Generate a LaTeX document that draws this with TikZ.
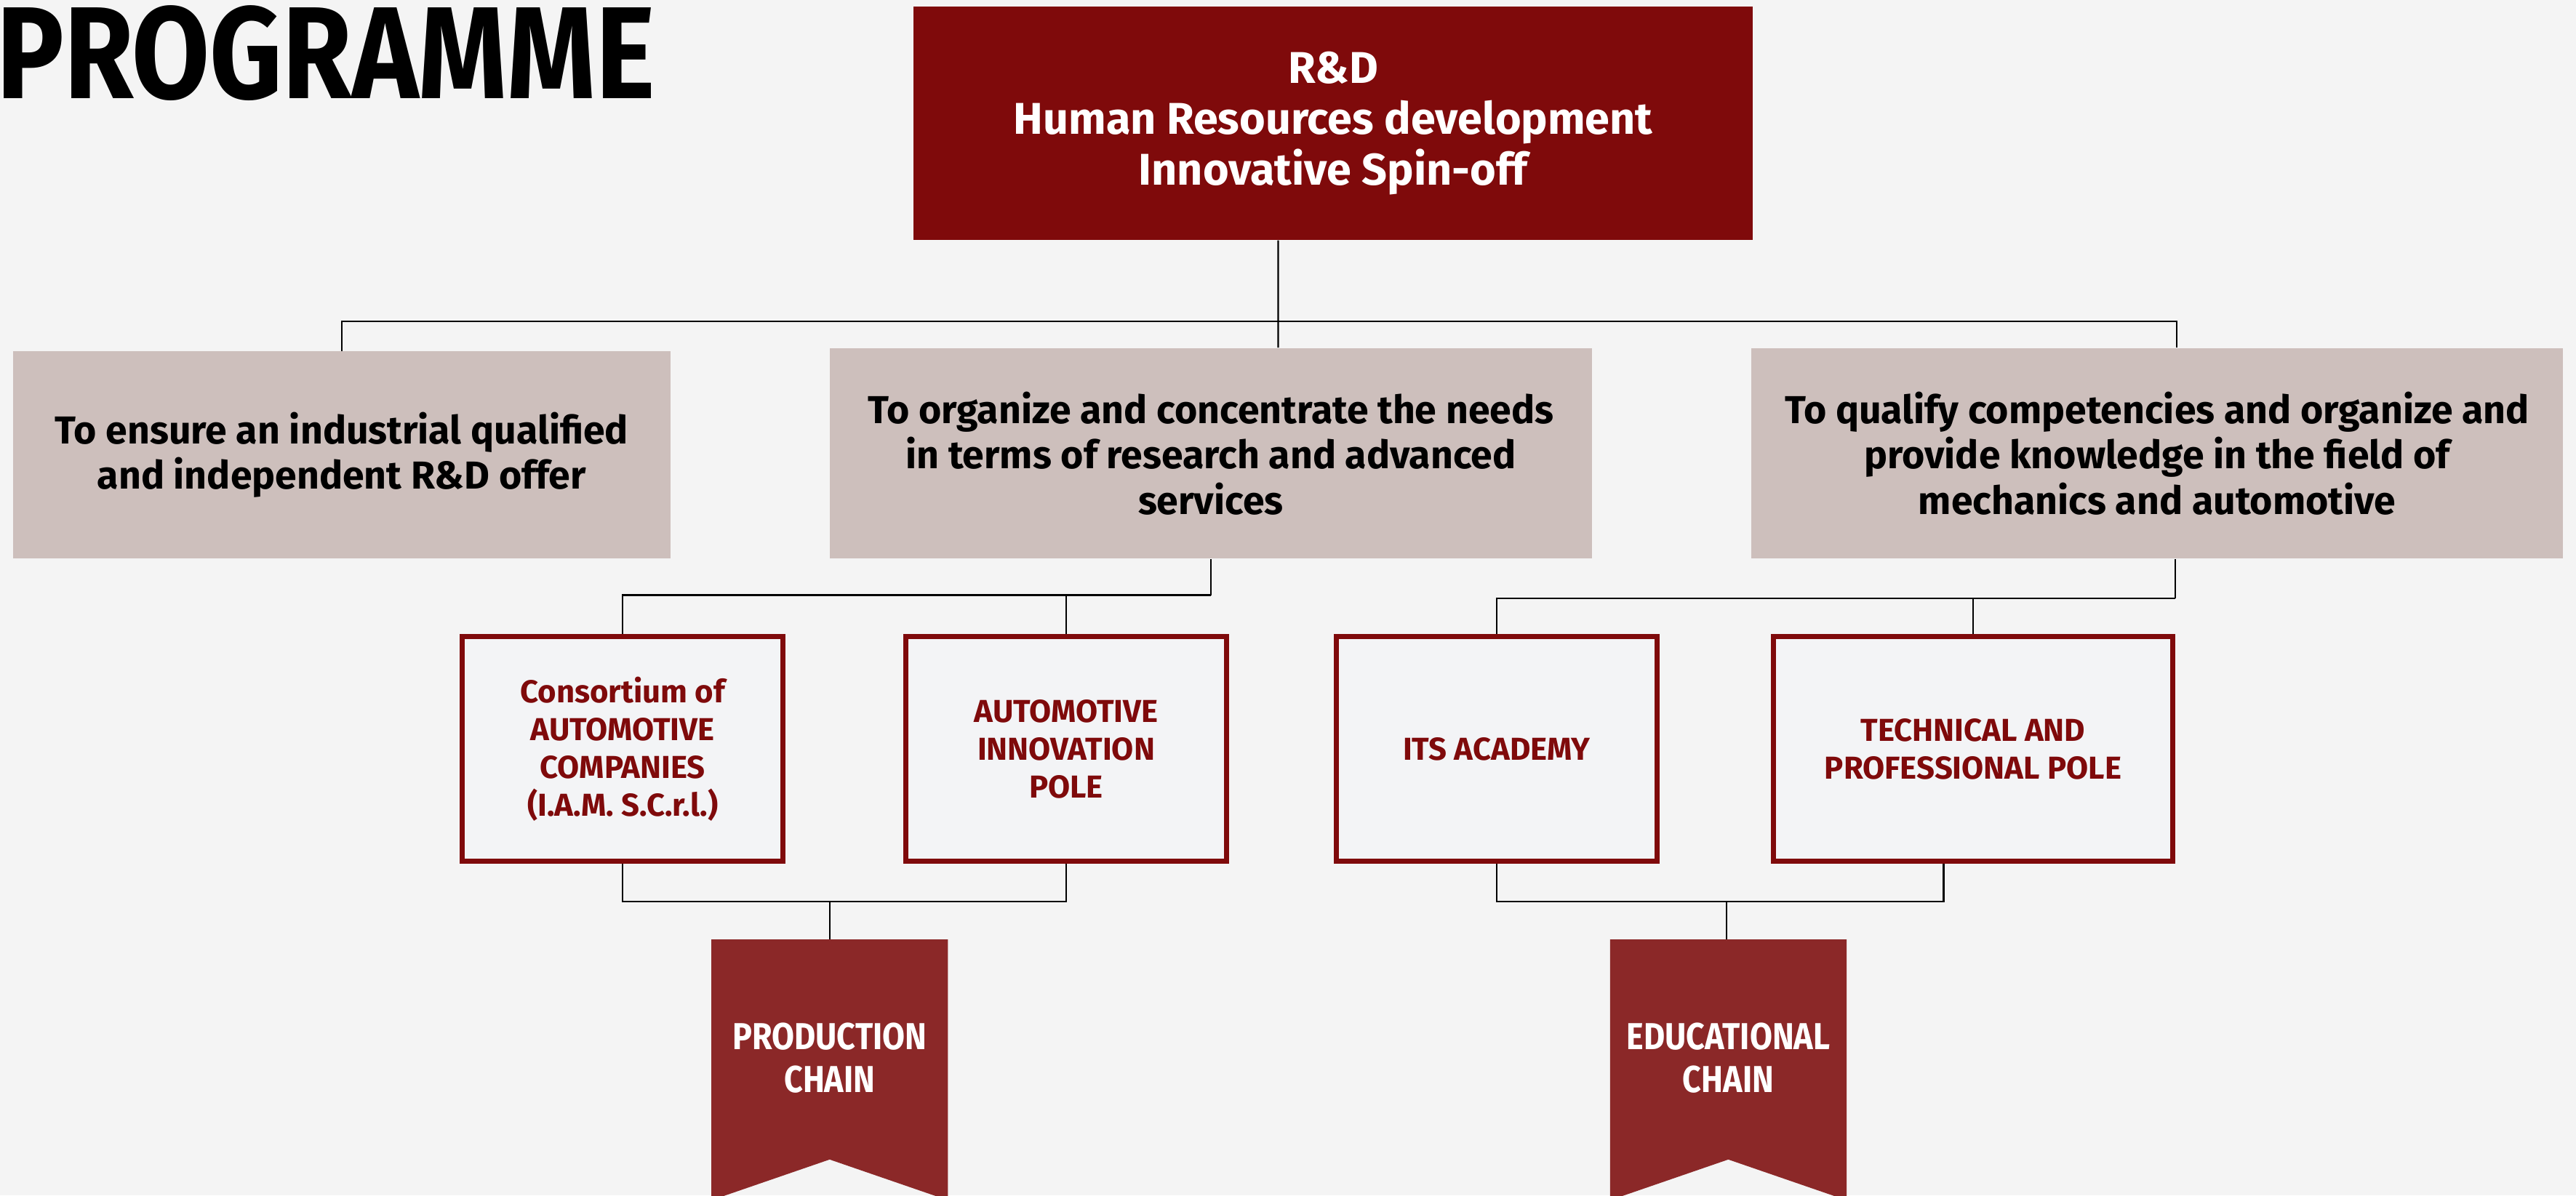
\documentclass[tikz,border=0pt]{standalone}
\usepackage{fontspec}
\setmainfont{Fira Sans}
\newfontfamily\narrowfont[FakeStretch=0.86]{Fira Sans}
\newfontfamily\ribbonfont[FakeStretch=0.87]{Fira Sans}
\usepackage{tikz}
\usetikzlibrary{positioning}

\definecolor{bgcol}{HTML}{F4F4F4}
\definecolor{rdred}{HTML}{7F0A0B}
\definecolor{chainred}{HTML}{8B2828}
\definecolor{goalcol}{HTML}{CDBFBC}
\definecolor{polecol}{HTML}{F3F4F6}

\begin{document}
\begin{tikzpicture}
\tikzset{topblock/.style={rectangle,fill=rdred,text=white,font=\fontsize{15.4}{17.6}\selectfont\bfseries,align=center,inner sep=0pt},
goal/.style={rectangle,fill=goalcol,text=black,font=\fontsize{13.5}{15.8}\selectfont\bfseries,align=center,inner sep=0pt},
pole/.style={rectangle,draw=rdred,line width=1.8pt,fill=polecol,text=rdred,font=\fontsize{11}{13.1}\selectfont\bfseries,align=center,inner sep=0pt,minimum width=3.9cm,minimum height=2.74cm},
chainlabel/.style={text=white,font=\ribbonfont\fontsize{13}{14.8}\selectfont\bfseries,align=center},
link/.style={draw=black,line width=0.6pt}}

  \useasboundingbox (0,0) rectangle (31.36,14.556);
  \fill[bgcol] (0,0) rectangle (31.36,14.556);

  \node [anchor=base west,inner sep=0pt,font=\narrowfont\fontsize{45.4}{50}\selectfont\bfseries] (title) at (-0.05,13.356) {PROGRAMME};

  \node [topblock,minimum width=10.22cm,minimum height=2.84cm] (rd) at (16.23,13.056) {R\&D\\Human Resources development\\Innovative Spin-off};

  \node [goal,minimum width=8cm,minimum height=2.52cm] (goalA) at (4.16,9.016) {To ensure an industrial qualified\\and independent R\&D offer};
  \node [goal,minimum width=9.28cm,minimum height=2.56cm] (goalB) at (14.74,9.036) {To organize and concentrate the needs\\in terms of research and advanced\\services};
  \node [goal,minimum width=9.88cm,minimum height=2.56cm] (goalC) at (26.26,9.036) {To qualify competencies and organize and\\provide knowledge in the field of\\mechanics and automotive};

  \node [pole] (cons) at (7.58,5.436) {Consortium of\\AUTOMOTIVE\\COMPANIES\\(I.A.M. S.C.r.l.)};
  \node [pole] (innov) at (12.98,5.436) {AUTOMOTIVE\\INNOVATION\\POLE};
  \node [pole] (its) at (18.22,5.436) {ITS ACADEMY};
  \node [pole,minimum width=4.86cm] (tech) at (24.02,5.436) {TECHNICAL AND\\PROFESSIONAL POLE};

  % ribbons
  \fill [chainred] (8.66,3.116) -- (11.54,3.116) -- (11.54,-0.06) -- (10.1,0.436) -- (8.66,-0.06) -- cycle;
  \fill [chainred] (19.6,3.116) -- (22.48,3.116) -- (22.48,-0.06) -- (21.04,0.436) -- (19.6,-0.06) -- cycle;
  \coordinate (prodtop) at (10.1,3.116);
  \coordinate (edutop) at (21.02,3.116);
  \node [chainlabel] (prod) at (10.1,1.676) {PRODUCTION\\CHAIN};
  \node [chainlabel] (edu) at (21.04,1.676) {EDUCATIONAL\\CHAIN};

  % tree lines
  \draw [link] ([xshift=-0.67cm]rd.south) -- ([xshift=0.82cm]goalB.north);
  \draw [link] (goalA.north) -- ++(0,0.36) -| ([xshift=0.24cm]goalC.north);

  \draw [link] (goalB.south) -- ++(0,-0.44) coordinate (midjoin);
  \draw [link] (cons.north) |- (midjoin);
  \draw [link] (innov.north) -- (innov.north |- midjoin);

  \draw [link] ([xshift=0.22cm]goalC.south) -- ++(0,-0.48) coordinate (rightjoin);
  \draw [link] (its.north) |- (rightjoin);
  \draw [link] (tech.north) -- (tech.north |- rightjoin);

  \coordinate (prodjoin) at (10.1,3.576);
  \coordinate (edujoin) at (21.02,3.576);
  \draw [link] (cons.south) |- (prodjoin) -| (innov.south);
  \draw [link] (prodjoin) -- (prodtop);
  \draw [link] (its.south) |- (edujoin) -| ([xshift=-0.36cm]tech.south);
  \draw [link] (edujoin) -- (edutop);

\end{tikzpicture}
\end{document}
